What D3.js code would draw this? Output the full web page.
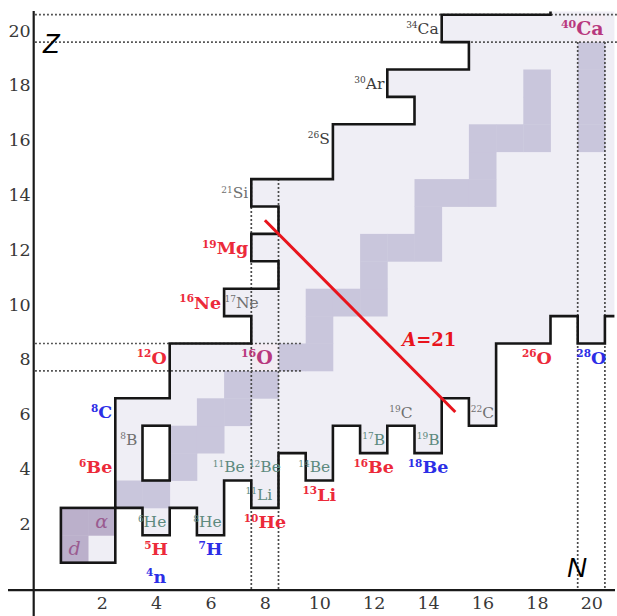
<!DOCTYPE html>
<html>
<head>
<meta charset="utf-8">
<script src="https://cdn.jsdelivr.net/npm/d3@7"></script>
<style>
  body { margin: 0; background: #fff; }
  svg { display: block; }
</style>
</head>
<body>
<script>
// ---- data -------------------------------------------------------------
// Tick values on both axes
const nTicks = [2, 4, 6, 8, 10, 12, 14, 16, 18, 20];
const zTicks = [2, 4, 6, 8, 10, 12, 14, 16, 18, 20];

// Proton drip line: cell-edge corners [N, Z] of the bound region, bottom to top
const protonEdge = [[2.5,2.5],[2.5,6.5],[4.5,6.5],[4.5,8.5],[7.5,8.5],[7.5,9.5],[6.5,9.5],[6.5,10.5],
  [8.5,10.5],[8.5,11.5],[7.5,11.5],[7.5,12.5],[8.5,12.5],[8.5,13.5],[7.5,13.5],[7.5,14.5],
  [10.5,14.5],[10.5,16.5],[13.5,16.5],[13.5,17.5],[12.5,17.5],[12.5,18.5],[15.5,18.5],
  [15.5,19.5],[14.5,19.5],[14.5,20.5],[18.5,20.5],[18.5,20.62]];

// Neutron drip line: cell-edge corners [N, Z], left to right
const neutronEdge = [[2.5,2.5],[3.5,2.5],[3.5,1.5],[4.5,1.5],[4.5,2.5],[5.5,2.5],[5.5,1.5],[6.5,1.5],
  [6.5,3.5],[7.5,3.5],[7.5,2.5],[8.5,2.5],[8.5,4.5],[9.5,4.5],[9.5,3.5],[10.5,3.5],[10.5,5.5],
  [11.5,5.5],[11.5,4.5],[12.5,4.5],[12.5,5.5],[13.5,5.5],[13.5,4.5],[14.5,4.5],[14.5,6.5],
  [15.5,6.5],[15.5,5.5],[16.5,5.5],[16.5,8.5],[18.5,8.5],[18.5,9.5],[19.5,9.5],[19.5,8.5],
  [20.5,8.5],[20.5,9.5],[20.85,9.5]];

// Chart limits (upper-right corner of the drawn region)
const nMax = 20.85, zMax = 20.62;

// Stable nuclides [N, Z]
const stable = [[1,1],[1,2],[2,2],[3,3],[4,3],[5,4],[5,5],[6,5],[6,6],[7,6],[7,7],[8,7],
  [9,8],[10,8],[10,9],[10,10],[11,10],[12,10],[12,11],[12,12],[13,12],[14,12],[14,13],
  [14,14],[15,14],[16,14],[16,15],[16,16],[17,16],[18,16],[18,17],[18,18],
  [20,16],[20,17],[20,18],[20,19]];

// Doubly magic nuclides [N, Z]
const doublyMagic = [[8,8],[20,20]];

// Light box holding d, t, 3He, alpha
const lightBox = { n0: 0.5, n1: 2.5, z0: 0.5, z1: 2.5 };

// Unbound gap inside the chart: 8Be and 9B
const gapCells = [[4,4],[4,5]];

// Isobar A = 21, drawn from N = 8 to N = 15
const isobarA = 21;
const isobarN = [8, 15];

// Nuclide labels: [mass number, symbol, N, Z, group]
const labels = [
  ["8","C",2,6,"blue"], ["6","Be",2,4,"red"], ["8","B",3,5,"grey"],
  ["12","O",4,8,"red"], ["16","O",8,8,"magic"], ["16","Ne",6,10,"red"],
  ["17","Ne",7,10,"grey"], ["19","Mg",7,12,"red"], ["21","Si",7,14,"grey"],
  ["26","S",10,16,"dark"], ["30","Ar",12,18,"dark"], ["34","Ca",14,20,"dark"],
  ["40","Ca",20,20,"magic"], ["6","He",4,2,"halo"], ["8","He",6,2,"halo"],
  ["5","H",4,1,"red"], ["7","H",6,1,"blue"], ["4","n",4,0,"blue"],
  ["11","Be",7,4,"halo"], ["12","Be",8,4,"halo"], ["11","Li",8,3,"halo"],
  ["10","He",8,2,"red"], ["14","Be",10,4,"halo"], ["13","Li",10,3,"red"],
  ["17","B",12,5,"halo"], ["16","Be",12,4,"red"], ["19","B",14,5,"halo"],
  ["18","Be",14,4,"blue"], ["19","C",13,6,"grey"], ["22","C",16,6,"grey"],
  ["26","O",18,8,"red"], ["28","O",20,8,"blue"]
];
// Labels written just left of the proton drip line
const dripSideLabels = ["8C","6Be","12O","16Ne","19Mg","21Si","26S","30Ar","34Ca"];

// Light-particle labels inside the box: [text, N, Z]
const particleLabels = [["d",1,1],["α",2,2]];

// ---- drawing ----------------------------------------------------------
const W = 617, H = 616;
const svg = d3.select("body").append("svg").attr("width", W).attr("height", H);

const x = d3.scaleLinear().domain([0, 20]).range([47.3, 591.3]);
const y = d3.scaleLinear().domain([0, 20]).range([576.4, 28.4]);
const cw = x(1) - x(0), ch = y(0) - y(1);

const light = "#efeef5", band = "#c9c6dc", bandLight = "#bbb0cb";
const line = d3.line().x(d => x(d[0])).y(d => y(d[1]));

// bound region
const region = protonEdge.concat([[nMax, zMax]], neutronEdge.slice().reverse());
svg.append("path").attr("d", line(region) + "Z").attr("fill", light);

svg.append("rect")
  .attr("x", x(lightBox.n0)).attr("y", y(lightBox.z1))
  .attr("width", x(lightBox.n1) - x(lightBox.n0)).attr("height", y(lightBox.z0) - y(lightBox.z1))
  .attr("fill", light);

// stable valley
svg.append("g").selectAll("rect").data(stable).join("rect")
  .attr("x", d => x(d[0] - 0.5)).attr("y", d => y(d[1] + 0.5))
  .attr("width", cw + 0.4).attr("height", ch + 0.4)
  .attr("fill", d => d[0] + d[1] <= 4 ? bandLight : band);

svg.append("g").selectAll("rect").data(doublyMagic).join("rect")
  .attr("x", d => x(d[0] - 0.5)).attr("y", d => y(d[1] + 0.5))
  .attr("width", cw).attr("height", ch)
  .attr("fill", "#f3ecf3");

// dotted guides at the magic numbers 8 and 20
const dotted = svg.append("g").attr("stroke", "#4a4a4a").attr("stroke-width", 1.7)
  .attr("stroke-dasharray", "1.8,2.2").attr("fill", "none");
[7.5, 8.5].forEach(z => dotted.append("line")
  .attr("x1", x(-0.45)).attr("x2", x(9.4)).attr("y1", y(z)).attr("y2", y(z)));
[19.5, 20.5].forEach(z => dotted.append("line")
  .attr("x1", x(-0.45)).attr("x2", W).attr("y1", y(z)).attr("y2", y(z)));
[7.5, 8.5].forEach(n => dotted.append("line")
  .attr("x1", x(n)).attr("x2", x(n)).attr("y1", y(14.5)).attr("y2", y(-0.5)));
[19.5, 20.5].forEach(n => dotted.append("line")
  .attr("x1", x(n)).attr("x2", x(n)).attr("y1", y(19.5)).attr("y2", y(-0.5)));

// gap cells
const gap = { n0: d3.min(gapCells, d => d[0]) - 0.5, n1: d3.max(gapCells, d => d[0]) + 0.5,
              z0: d3.min(gapCells, d => d[1]) - 0.5, z1: d3.max(gapCells, d => d[1]) + 0.5 };

// outlines
const outline = svg.append("g").attr("fill", "none").attr("stroke", "#161616")
  .attr("stroke-width", 2.6).attr("stroke-linejoin", "miter");
outline.append("path").attr("d", line(protonEdge));
outline.append("path").attr("d", line(neutronEdge));
outline.append("rect")
  .attr("x", x(lightBox.n0)).attr("y", y(lightBox.z1))
  .attr("width", x(lightBox.n1) - x(lightBox.n0)).attr("height", y(lightBox.z0) - y(lightBox.z1));
outline.append("rect")
  .attr("x", x(gap.n0)).attr("y", y(gap.z1))
  .attr("width", x(gap.n1) - x(gap.n0)).attr("height", y(gap.z0) - y(gap.z1))
  .attr("fill", "#fff");

// isobar A = 21
svg.append("line")
  .attr("x1", x(isobarN[0])).attr("y1", y(isobarA - isobarN[0]))
  .attr("x2", x(isobarN[1])).attr("y2", y(isobarA - isobarN[1]))
  .attr("stroke", "#e8141c").attr("stroke-width", 3);
const aLab = svg.append("text").attr("x", x(13.05)).attr("y", y(8.4))
  .attr("font-family", "DejaVu Serif").attr("font-weight", "bold").attr("font-size", 18)
  .attr("fill", "#e8141c");
aLab.append("tspan").attr("font-style", "italic").text("A");
aLab.append("tspan").text("=" + isobarA);

// axes lines
svg.append("line").attr("x1", x(-0.5)).attr("x2", x(-0.5)).attr("y1", 11).attr("y2", H)
  .attr("stroke", "#1a1a1a").attr("stroke-width", 2.2);
svg.append("line").attr("x1", 8).attr("x2", 615).attr("y1", y(-0.5)).attr("y2", y(-0.5))
  .attr("stroke", "#1a1a1a").attr("stroke-width", 2.2);

// tick labels through d3 axes
const xAxis = svg.append("g").attr("transform", `translate(0,${y(-0.5) + 6})`)
  .call(d3.axisBottom(x).tickValues(nTicks).tickSize(0).tickPadding(0));
const yAxis = svg.append("g").attr("transform", `translate(${x(-0.5) - 3},2)`)
  .call(d3.axisLeft(y).tickValues(zTicks).tickSize(0).tickPadding(0));
[xAxis, yAxis].forEach(g => {
  g.select(".domain").remove();
  g.selectAll("text").attr("font-family", "DejaVu Serif").attr("font-size", 17.5)
    .attr("fill", "#383838");
});

// axis titles
svg.append("text").attr("x", 43).attr("y", 53).text("Z")
  .attr("font-family", "Liberation Sans").attr("font-style", "italic").attr("font-size", 27);
svg.append("text").attr("x", 567).attr("y", 577).text("N")
  .attr("font-family", "Liberation Sans").attr("font-style", "italic").attr("font-size", 27);

// nuclide labels
const styles = {
  red:   { fill: "#ec2a3a", bold: true,  size: 17.5, sup: 10.5 },
  blue:  { fill: "#2c2ee6", bold: true,  size: 17.5, sup: 10.5 },
  magic: { fill: "#b8387e", bold: true,  size: 19,   sup: 11 },
  halo:  { fill: "#5d8a7e", bold: false, size: 15.5, sup: 9 },
  grey:  { fill: "#707070", bold: false, size: 15.5, sup: 9 },
  dark:  { fill: "#3c3c3c", bold: false, size: 15.5, sup: 9 }
};
// horizontal nudges (px) where neighbouring labels crowd a cell
const nudge = { "11Be": -9, "11Li": -6, "14Be": -5, "6He": -4, "8He": -3,
                "17Ne": 4, "16O": -8, "40Ca": -9 };
const labG = svg.append("g").attr("font-family", "DejaVu Serif");
labels.forEach(([m, sym, n, z, grp]) => {
  const s = styles[grp];
  const key = m + sym;
  const t = labG.append("text")
    .attr("font-size", s.size).attr("font-weight", s.bold ? "bold" : "normal")
    .attr("fill", s.fill).attr("y", y(z) + s.size * 0.36);
  t.append("tspan").attr("font-size", s.sup).attr("dy", -s.size * 0.36).text(m);
  t.append("tspan").attr("dy", s.size * 0.36).text(sym);
  if (dripSideLabels.includes(key)) {
    t.attr("text-anchor", "end").attr("x", x(n + 0.5) - 3);
  } else {
    t.attr("text-anchor", "middle").attr("x", x(n) + (nudge[key] || 0));
  }
});

svg.append("g").attr("font-family", "DejaVu Serif").attr("font-style", "italic")
  .attr("font-size", 19).attr("fill", "#9a5b90").attr("text-anchor", "middle")
  .selectAll("text").data(particleLabels).join("text")
  .attr("x", d => x(d[1])).attr("y", d => y(d[2]) + 6).text(d => d[0]);
</script>
</body>
</html>
